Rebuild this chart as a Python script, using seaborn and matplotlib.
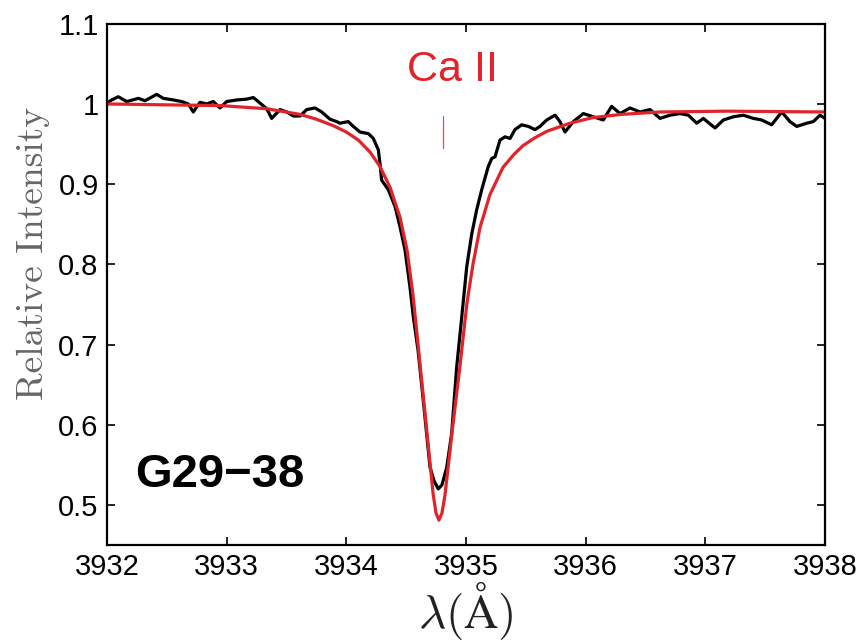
import numpy as np
import pandas as pd
import matplotlib
matplotlib.use("Agg")
import matplotlib.pyplot as plt
import seaborn as sns

# ---- data ----
obs_wl = [3932.000, 3932.039, 3932.094, 3932.165, 3932.262, 3932.318, 3932.415, 3932.470,
          3932.554, 3932.624, 3932.679, 3932.721, 3932.777, 3932.833, 3932.888, 3932.944,
          3933.000, 3933.084, 3933.167, 3933.223, 3933.279, 3933.335, 3933.376, 3933.446,
          3933.502, 3933.557, 3933.613, 3933.669, 3933.738, 3933.794, 3933.863, 3933.919,
          3933.947, 3934.016, 3934.058, 3934.114, 3934.184, 3934.225, 3934.267, 3934.281,
          3934.295, 3934.351, 3934.407, 3934.448, 3934.490, 3934.532, 3934.560, 3934.599,
          3934.643, 3934.699, 3934.733, 3934.768, 3934.799, 3934.839, 3934.880, 3934.922,
          3934.964, 3935.006, 3935.048, 3935.089, 3935.131, 3935.186, 3935.215, 3935.242,
          3935.284, 3935.326, 3935.368, 3935.409, 3935.465, 3935.521, 3935.576, 3935.618,
          3935.674, 3935.744, 3935.785, 3935.827, 3935.897, 3935.980, 3936.064, 3936.147,
          3936.217, 3936.287, 3936.370, 3936.454, 3936.538, 3936.621, 3936.705, 3936.788,
          3936.858, 3936.928, 3936.983, 3937.081, 3937.150, 3937.234, 3937.317, 3937.401,
          3937.471, 3937.554, 3937.638, 3937.707, 3937.763, 3937.847, 3937.902, 3937.958,
          3938.000]
obs_flux = [1.001, 1.005, 1.009, 1.003, 1.007, 1.004, 1.012, 1.007,
            1.005, 1.003, 1.000, 0.990, 1.002, 1.000, 1.003, 0.995,
            1.003, 1.005, 1.006, 1.008, 1.001, 0.994, 0.982, 0.993,
            0.990, 0.985, 0.985, 0.993, 0.995, 0.990, 0.981, 0.978,
            0.976, 0.978, 0.972, 0.965, 0.963, 0.957, 0.943, 0.926,
            0.905, 0.893, 0.872, 0.847, 0.818, 0.771, 0.734, 0.693,
            0.630, 0.547, 0.530, 0.520, 0.525, 0.547, 0.589, 0.672,
            0.734, 0.797, 0.838, 0.868, 0.893, 0.922, 0.932, 0.934,
            0.955, 0.959, 0.957, 0.968, 0.974, 0.972, 0.968, 0.972,
            0.980, 0.986, 0.978, 0.965, 0.978, 0.988, 0.984, 0.980,
            0.997, 0.988, 0.995, 0.990, 0.993, 0.982, 0.986, 0.988,
            0.986, 0.976, 0.982, 0.970, 0.980, 0.984, 0.986, 0.982,
            0.980, 0.974, 0.990, 0.978, 0.972, 0.976, 0.978, 0.986,
            0.982]

model_wl = [3932.000, 3932.443, 3932.944, 3933.337, 3933.613, 3933.750, 3933.889, 3934.000,
            3934.100, 3934.198, 3934.281, 3934.365, 3934.448, 3934.507, 3934.557, 3934.616,
            3934.674, 3934.724, 3934.749, 3934.774, 3934.799, 3934.824, 3934.883, 3934.950,
            3935.008, 3935.058, 3935.117, 3935.200, 3935.309, 3935.400, 3935.476, 3935.577,
            3935.677, 3935.869, 3936.061, 3936.300, 3936.621, 3937.181, 3938.000]
model_flux = [1.000, 0.999, 0.998, 0.994, 0.987, 0.981, 0.973, 0.965,
              0.955, 0.940, 0.922, 0.896, 0.859, 0.818, 0.762, 0.675,
              0.590, 0.515, 0.490, 0.481, 0.490, 0.512, 0.590, 0.674,
              0.752, 0.800, 0.846, 0.887, 0.921, 0.937, 0.948, 0.958,
              0.966, 0.976, 0.983, 0.987, 0.990, 0.991, 0.990]

x_ticks = [3932, 3933, 3934, 3935, 3936, 3937, 3938]
y_ticks = [0.5, 0.6, 0.7, 0.8, 0.9, 1.0, 1.1]
y_tick_labels = ["0.5", "0.6", "0.7", "0.8", "0.9", "1", "1.1"]

line_label = "Ca II"
line_center = 3934.81
star_name = "G29\u221238"

# ---- styling ----
sns.set_theme(style="white")
plt.rcParams["font.family"] = ["Liberation Sans", "DejaVu Sans"]
plt.rcParams["mathtext.fontset"] = "cm"

RED = "#e3232a"

fig = plt.figure(figsize=(8.63, 6.42), dpi=100)
ax = fig.add_axes([0.124, 0.151, 0.832, 0.812])

obs = pd.DataFrame({"wl": obs_wl, "flux": obs_flux})
mod = pd.DataFrame({"wl": model_wl, "flux": model_flux})

sns.lineplot(data=obs, x="wl", y="flux", ax=ax, color="black", lw=2.3,
             estimator=None, sort=False)
sns.lineplot(data=mod, x="wl", y="flux", ax=ax, color=RED, lw=2.3,
             estimator=None, sort=False)

ax.set_xlim(3932, 3938)
ax.set_ylim(0.45, 1.1)
ax.set_xticks(x_ticks)
ax.set_xticklabels([str(t) for t in x_ticks])
ax.set_yticks(y_ticks)
ax.set_yticklabels(y_tick_labels)

ax.tick_params(direction="in", length=6, width=1.2, labelsize=21, colors="black",
               top=True, right=True, bottom=True, left=True, pad=6)
for s in ax.spines.values():
    s.set_color("black")
    s.set_linewidth(1.6)

ax.set_xlabel(r"$\lambda(\mathrm{\AA})$", fontsize=34, color="#222222", labelpad=-2)
ax.set_ylabel("Relative Intensity", fontsize=27, color="#666666", family="cmr10")
ax.yaxis.set_label_coords(-0.079, 0.56)

# line marker and label
ax.plot([line_center, line_center], [0.945, 0.985], color=RED, lw=0.9, alpha=0.8)
ax.text(3934.89, 1.042, line_label, color=RED, fontsize=31, ha="center", va="center")
ax.text(3932.94, 0.537, star_name, color="black", fontsize=34, fontweight="bold",
        ha="center", va="center")

fig.savefig("out.png", dpi=100)
